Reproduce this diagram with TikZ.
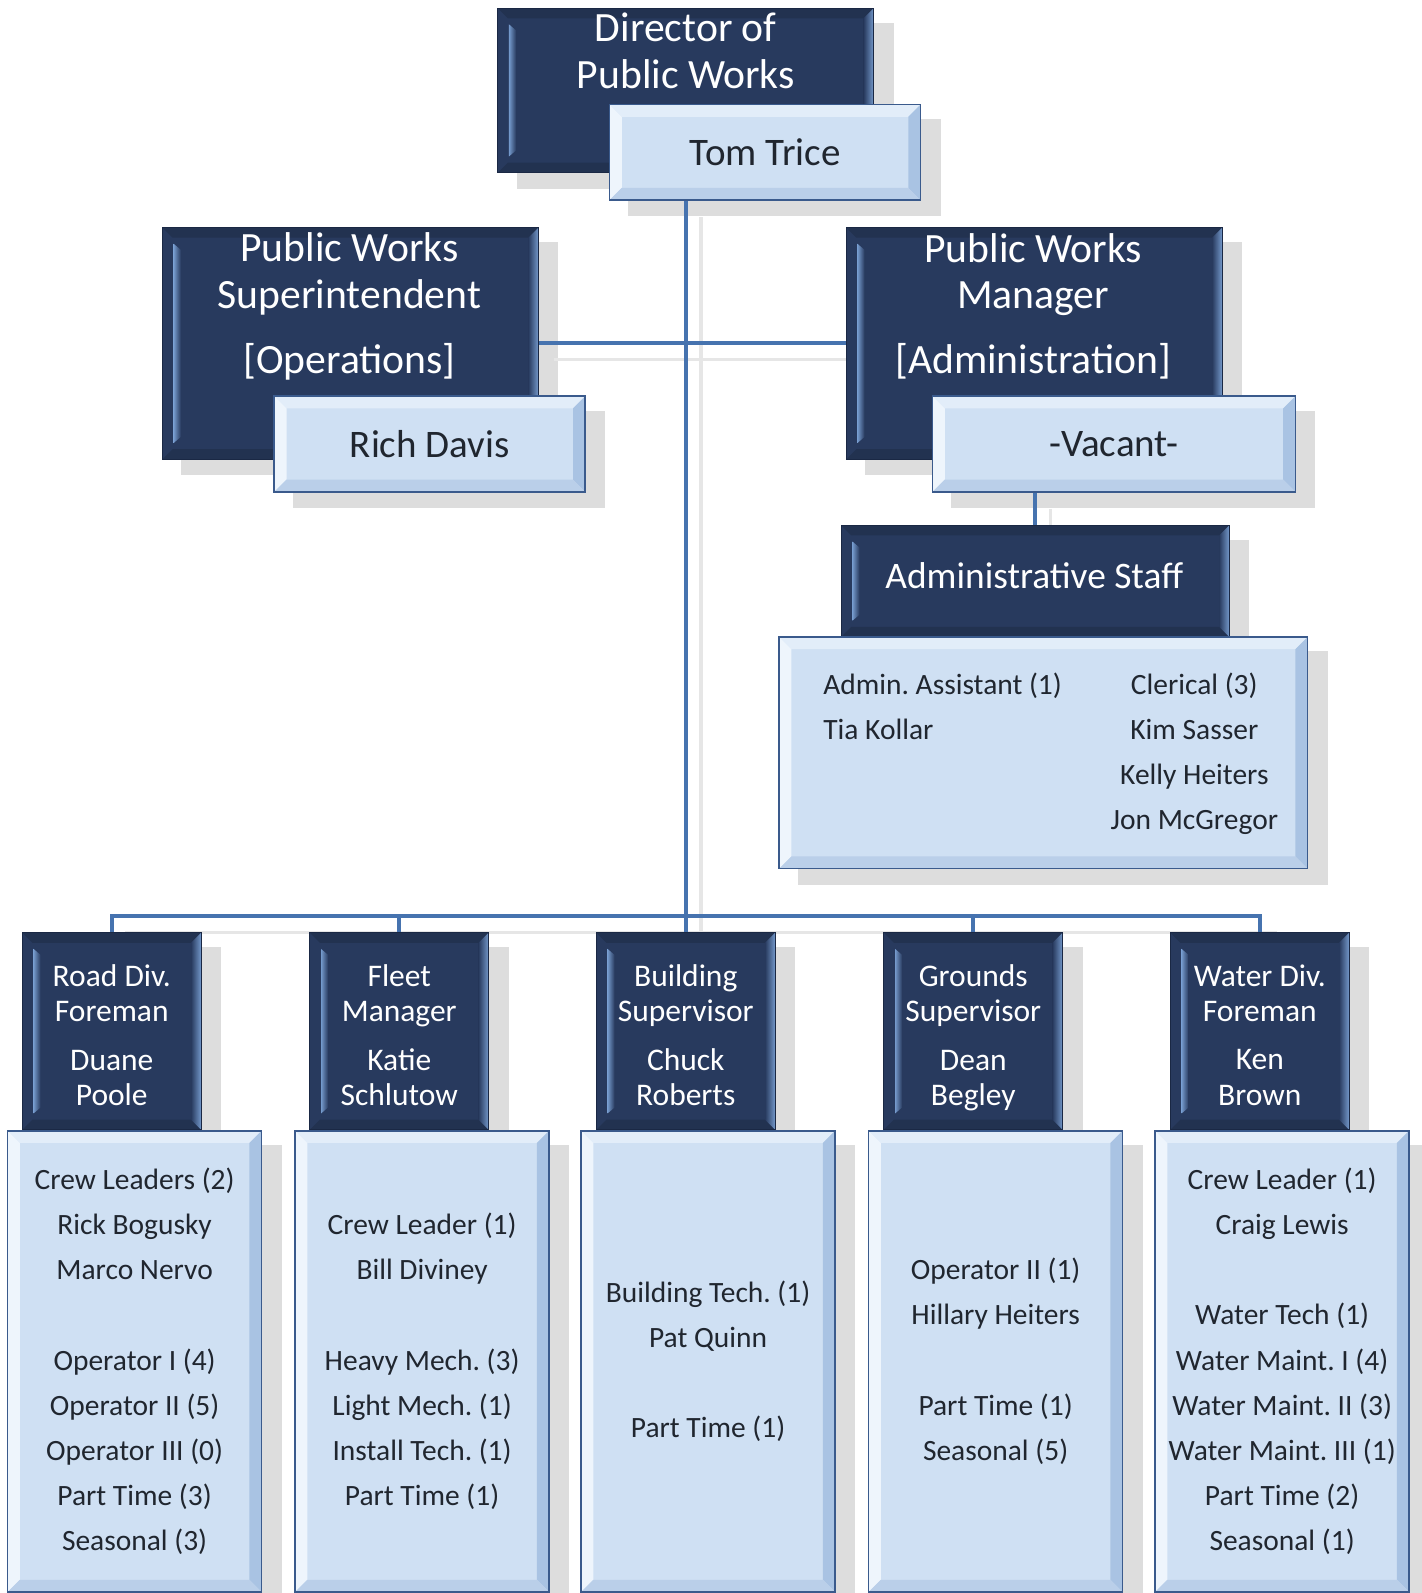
\documentclass[tikz,border=0pt]{standalone}
\usepackage{fontspec}
\setmainfont{Carlito}
\frenchspacing
\usetikzlibrary{calc}
\pgfdeclarelayer{back}
\pgfdeclarelayer{mid}
\pgfsetlayers{back,mid,main}
\definecolor{navy}{HTML}{283A5E}
\definecolor{navydark}{HTML}{223250}
\definecolor{navyedge}{HTML}{1A2844}
\definecolor{bevhi}{HTML}{7499CB}
\definecolor{pale}{HTML}{CFE0F3}
\definecolor{paletop}{HTML}{E2EDF9}
\definecolor{paleleft}{HTML}{EEF5FC}
\definecolor{paleright}{HTML}{A9C3E3}
\definecolor{palebot}{HTML}{BACFE9}
\definecolor{paleedge}{HTML}{3A5A8C}
\definecolor{linkblue}{HTML}{4673AF}
\definecolor{shcol}{HTML}{DDDDDD}
\definecolor{linesh}{HTML}{E6E6E6}
\definecolor{ink}{HTML}{20262F}
\tikzset{
  darkbox/.style={draw=navyedge, line width=0.6pt, fill=navy, text=white, align=center, inner sep=0pt,
    path picture={
      \path (path picture bounding box.north west) coordinate (nw)
            (path picture bounding box.north east) coordinate (ne)
            (path picture bounding box.south west) coordinate (sw)
            (path picture bounding box.south east) coordinate (se);
      \fill[navydark] (nw) -- (ne) -- ([shift={(-5pt,-5pt)}]ne) -- ([shift={(5pt,-5pt)}]nw) -- cycle;
      \fill[navydark] (sw) -- (se) -- ([shift={(-5pt,5pt)}]se) -- ([shift={(5pt,5pt)}]sw) -- cycle;
      \shade[left color=bevhi, right color=navy] ([shift={(5.5pt,-8pt)}]nw) -- ([shift={(9pt,-11pt)}]nw) -- ([shift={(9pt,11pt)}]sw) -- ([shift={(5.5pt,8pt)}]sw) -- cycle;
      \shade[left color=navy, right color=bevhi] ([shift={(-5pt,-5pt)}]ne) -- (ne) -- (se) -- ([shift={(-5pt,5pt)}]se) -- cycle;
    }},
  lightbox/.style={draw=paleedge, line width=0.8pt, fill=pale, text=ink, align=center, inner sep=0pt,
    path picture={
      \path (path picture bounding box.north west) coordinate (nw)
            (path picture bounding box.north east) coordinate (ne)
            (path picture bounding box.south west) coordinate (sw)
            (path picture bounding box.south east) coordinate (se);
      \fill[paletop] (nw) -- (ne) -- ([shift={(-6pt,-6pt)}]ne) -- ([shift={(6pt,-6pt)}]nw) -- cycle;
      \fill[paleleft] (nw) -- ([shift={(6pt,-6pt)}]nw) -- ([shift={(6pt,6pt)}]sw) -- (sw) -- cycle;
      \fill[paleright] (ne) -- (se) -- ([shift={(-6pt,6pt)}]se) -- ([shift={(-6pt,-6pt)}]ne) -- cycle;
      \fill[palebot] (sw) -- ([shift={(6pt,6pt)}]sw) -- ([shift={(-6pt,6pt)}]se) -- (se) -- cycle;
    }},
  toptitle/.style={text=white, align=center, inner sep=0pt, font=\fontsize{20.5}{23}\selectfont},
  namefont/.style={font=\fontsize{19.2}{23}\selectfont},
  subtitle/.style={text=white, align=center, inner sep=0pt, text depth=0pt, font=\fontsize{15.5}{17.25}\selectfont},
  listfont/.style={font=\fontsize{14.5}{22.25}\selectfont},
  conn/.style={draw=linkblue, line width=2pt},
  connsh/.style={draw=linesh, line width=1.6pt, transform canvas={xshift=7.5pt, yshift=-8pt}},
  boxsh/.style={fill=shcol, transform canvas={xshift=9.5pt, yshift=-7.5pt}}
}
\begin{document}
\begin{tikzpicture}[x=0.5pt, y=-0.5pt]
\useasboundingbox (0,0) rectangle (1399,1568);

% ---- top level
\node[darkbox, minimum width=185pt, minimum height=81pt] (dir) at (675,89) {};
\node[toptitle] (dirT) at (675,50) {Director of\\Public Works};
\node[lightbox, namefont, minimum width=153pt, minimum height=47pt] (tom) at (753,150) {Tom Trice};

% ---- superintendent
\node[darkbox, minimum width=185pt, minimum height=114pt] (sup) at (345,338) {};
\node[toptitle] (supT) at (344,301.5) {Public Works\\Superintendent\\[9pt]{[Operations]}};
\node[lightbox, namefont, minimum width=153pt, minimum height=47pt] (rich) at (423,437) {Rich Davis};

% ---- manager
\node[darkbox, minimum width=185pt, minimum height=114pt] (mgr) at (1018,338) {};
\node[toptitle] (mgrT) at (1017,301.5) {Public Works\\Manager\\[9pt]{[Administration]}};
\node[lightbox, namefont, minimum width=178.5pt, minimum height=47pt] (vac) at (1096.5,437) {-Vacant-};

% ---- administrative staff
\node[darkbox, minimum width=191pt, minimum height=55pt] (adms) at (1019,572) {};
\node[text=white, inner sep=0pt, font=\fontsize{18.4}{22}\selectfont] (admsT) at (1018,567) {Administrative Staff};
\node[lightbox, minimum width=260pt, minimum height=114pt] (admb) at (1027,741) {};
\node[listfont, text=ink, inner sep=0pt, anchor=west] (admT) at (810,741)
  {\setlength{\tabcolsep}{12pt}\begin{tabular}{@{}lc@{}}Admin. Assistant (1) & Clerical (3)\\ Tia Kollar & Kim Sasser\\ & Kelly Heiters\\ & Jon McGregor\end{tabular}};

% ---- division heads
\node[darkbox, minimum width=88pt, minimum height=97pt] (b1) at (110,1015) {};
\node[darkbox, minimum width=88pt, minimum height=97pt] (b2) at (393,1015) {};
\node[darkbox, minimum width=88pt, minimum height=97pt] (b3) at (675,1015) {};
\node[darkbox, minimum width=88pt, minimum height=97pt] (b4) at (958,1015) {};
\node[darkbox, minimum width=88pt, minimum height=97pt] (b5) at (1240,1015) {};
\node[subtitle] (b1T) at (110,1018.5) {Road Div.\\Foreman\\[6.75pt]Duane\\Poole};
\node[subtitle] (b2T) at (393,1018.5) {Fleet\\Manager\\[6.75pt]Katie\\Schlutow};
\node[subtitle] (b3T) at (675,1018.5) {Building\\Supervisor\\[6.75pt]Chuck\\Roberts};
\node[subtitle] (b4T) at (958,1018.5) {Grounds\\Supervisor\\[6.75pt]Dean\\Begley};
\node[subtitle] (b5T) at (1240,1018.5) {Water Div.\\Foreman\\[6.75pt]Ken\\Brown};

% ---- division staff
\node[lightbox, listfont, minimum width=125pt, minimum height=227pt] (l1) at (132.5,1340)
  {Crew Leaders (2)\\Rick Bogusky\\Marco Nervo\\[22.25pt]Operator I (4)\\Operator II (5)\\Operator III (0)\\Part Time (3)\\Seasonal (3)};
\node[lightbox, listfont, minimum width=125pt, minimum height=227pt] (l2) at (415.5,1340)
  {Crew Leader (1)\\Bill Diviney\\[22.25pt]Heavy Mech. (3)\\Light Mech. (1)\\Install Tech. (1)\\Part Time (1)};
\node[lightbox, listfont, minimum width=125pt, minimum height=227pt] (l3) at (697,1340)
  {Building Tech. (1)\\Pat Quinn\\[22.25pt]Part Time (1)};
\node[lightbox, listfont, minimum width=125pt, minimum height=227pt] (l4) at (980,1340)
  {Operator II (1)\\Hillary Heiters\\[22.25pt]Part Time (1)\\Seasonal (5)};
\node[lightbox, listfont, minimum width=125pt, minimum height=227pt] (l5) at (1262,1340)
  {Crew Leader (1)\\Craig Lewis\\[22.25pt]Water Tech (1)\\Water Maint. I (4)\\Water Maint. II (3)\\Water Maint. III (1)\\Part Time (2)\\Seasonal (1)};

\coordinate (bus) at (675,902);

% ---- shadows
\begin{pgfonlayer}{back}
  \fill[white] (0,0) rectangle (1399,1568);
  \foreach \n in {dir,tom,sup,rich,mgr,vac,adms,admb,b1,b2,b3,b4,b5,l1,l2,l3,l4,l5}
    \fill[boxsh] (\n.north west) rectangle (\n.south east);
  \draw[connsh] (tom.south -| dir.south) -- (b3.north);
  \draw[connsh] (b1.north) |- (bus) -| (b5.north);
  \draw[connsh] (b2.north) -- (b2.north |- bus);
  \draw[connsh] (b4.north) -- (b4.north |- bus);
  \draw[connsh] (sup.east) -- (mgr.west);
  \draw[connsh] (vac.south -| adms.north) -- (adms.north);
\end{pgfonlayer}

% ---- connectors
\begin{pgfonlayer}{mid}
  \draw[conn] (tom.south -| dir.south) -- (b3.north);
  \draw[conn] (b1.north) |- (bus) -| (b5.north);
  \draw[conn] (b2.north) -- (b2.north |- bus);
  \draw[conn] (b4.north) -- (b4.north |- bus);
  \draw[conn] (sup.east) -- (mgr.west);
  \draw[conn] (vac.south -| adms.north) -- (adms.north);
\end{pgfonlayer}
\end{tikzpicture}
\end{document}
